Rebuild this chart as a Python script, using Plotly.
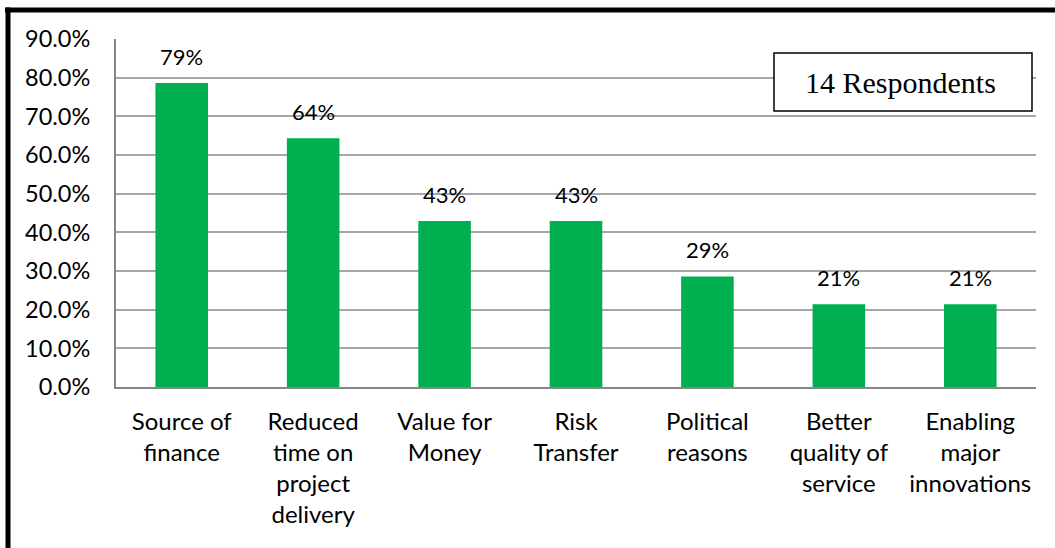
import plotly.graph_objects as go

# Reasons cited for choosing PPP (share of 14 respondents)
categories = [
    "Source of<br>finance",
    "Reduced<br>time on<br>project<br>delivery",
    "Value for<br>Money",
    "Risk<br>Transfer",
    "Political<br>reasons",
    "Better<br>quality of<br>service",
    "Enabling<br>major<br>innovations",
]
shares = [0.786, 0.643, 0.429, 0.429, 0.286, 0.214, 0.214]
y_ticks = [0.0, 0.1, 0.2, 0.3, 0.4, 0.5, 0.6, 0.7, 0.8, 0.9]

W, H = 1055, 548
L, R, T, B = 116, 19, 39, 161
PW, PH = W - L - R, H - T - B


def px_x(px):
    return (px - L) / PW


def px_y(py):
    return (H - B - py) / PH


FONT = "Lato, Calibri, sans-serif"
BAR = "#00B050"

fig = go.Figure(
    go.Bar(
        x=categories,
        y=shares,
        marker=dict(color=BAR, line=dict(width=0)),
        hoverinfo="skip",
    )
)

# value labels above each bar
for c, v in zip(categories, shares):
    fig.add_annotation(
        x=c, y=v, text=f"{v:.0%}", showarrow=False, yshift=27,
        xanchor="center", yanchor="middle",
        font=dict(family=FONT, size=22, color="#000000"),
    )

# "14 Respondents" note box
fig.add_annotation(
    xref="paper", yref="paper",
    x=px_x(900), y=px_y(83),
    xanchor="center", yanchor="middle",
    text="14 Respondents", showarrow=False,
    font=dict(family="Liberation Serif, Times New Roman, serif", size=30, color="#000000"),
)
fig.add_shape(
    type="rect", xref="paper", yref="paper",
    x0=px_x(774), x1=px_x(1032), y0=px_y(111), y1=px_y(53),
    line=dict(color="#000000", width=1.5), fillcolor="#FFFFFF",
    layer="above",
)

# frame edges (top and left)
fig.add_shape(
    type="line", xref="paper", yref="paper",
    x0=px_x(5), x1=px_x(1060), y0=px_y(10), y1=px_y(10),
    line=dict(color="#000000", width=5),
)
fig.add_shape(
    type="line", xref="paper", yref="paper",
    x0=px_x(8), x1=px_x(8), y0=px_y(7.5), y1=px_y(560),
    line=dict(color="#000000", width=5),
)

fig.update_layout(
    width=W, height=H,
    margin=dict(l=L, r=R, t=T, b=B),
    paper_bgcolor="#FFFFFF", plot_bgcolor="#FFFFFF",
    bargap=0.6, showlegend=False,
    font=dict(family=FONT, size=22, color="#000000"),
)
fig.update_xaxes(
    showline=True, linecolor="#868686", linewidth=2,
    showgrid=False, ticks="", ticklabelstandoff=12,
    tickfont=dict(family=FONT, size=24, color="#000000"),
)
fig.update_yaxes(
    range=[0, 0.9], tickvals=y_ticks, tickformat=".1%",
    showline=True, linecolor="#868686", linewidth=2,
    showgrid=True, gridcolor="#A6A6A6", gridwidth=1.5,
    zeroline=False, ticks="", ticklabelstandoff=19,
    tickfont=dict(family=FONT, size=23.5, color="#000000"),
)

fig.write_html("out.html")
